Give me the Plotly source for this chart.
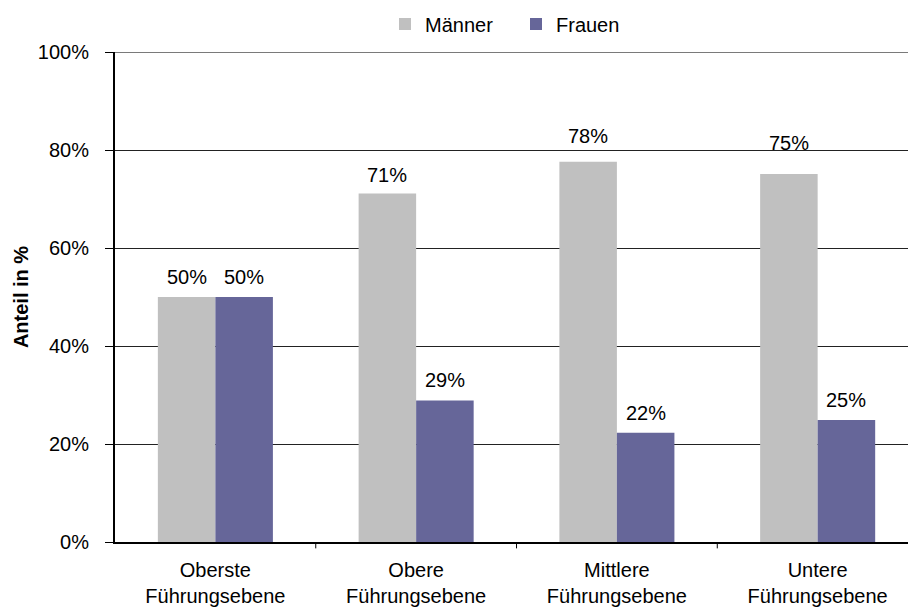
import plotly.graph_objects as go

# Anteil von Männern und Frauen je Führungsebene (in %)
categories = ["Oberste<br>Führungsebene", "Obere<br>Führungsebene",
              "Mittlere<br>Führungsebene", "Untere<br>Führungsebene"]
maenner = [50.0, 71.1, 77.6, 75.1]
frauen = [50.0, 28.9, 22.3, 24.9]
y_ticks = [0, 20, 40, 60, 80, 100]
y_tick_labels = ["0%", "20%", "40%", "60%", "80%", "100%"]

FONT = "Arial, Liberation Sans, sans-serif"
FS = 20
GRAY = "#C0C0C0"
PURPLE = "#666699"
BAR_GAP = 0.427

# vertical distance (px) of each value label centre above its bar
lift_m = [20, 19, 26, 31]
lift_f = [20, 20, 20, 20]

fig = go.Figure()
fig.add_trace(go.Bar(name="Männer", x=list(range(len(categories))), y=maenner,
                     marker=dict(color=GRAY, line=dict(width=0))))
fig.add_trace(go.Bar(name="Frauen", x=list(range(len(categories))), y=frauen,
                     marker=dict(color=PURPLE, line=dict(width=0))))

# value labels above the bars
half = (1 - BAR_GAP) / 4
for i in range(len(categories)):
    for val, sign, lift in ((maenner[i], -1, lift_m[i]), (frauen[i], 1, lift_f[i])):
        fig.add_annotation(x=i + sign * half, y=val, xref="x", yref="y",
                           text=f"{val:.0f}%", showarrow=False,
                           yanchor="middle", xanchor="center", yshift=lift,
                           font=dict(family=FONT, size=FS, color="#000"))

# upper frame line at 100 %
fig.add_shape(type="line", xref="paper", yref="y", x0=0, x1=1, y0=100, y1=100,
              line=dict(color="#7a7a7a", width=2), layer="below")

fig.update_layout(
    width=908, height=607,
    margin=dict(l=115, r=0, t=52, b=62),
    paper_bgcolor="white", plot_bgcolor="white",
    barmode="group", bargap=BAR_GAP, bargroupgap=0,
    font=dict(family=FONT, size=FS, color="#000"),
    showlegend=True,
    legend=dict(orientation="h", x=(385 - 115) / 793, xanchor="left",
                y=1.057, yanchor="middle", entrywidth=86,
                font=dict(family=FONT, size=FS, color="#000"),
                bgcolor="rgba(0,0,0,0)", traceorder="normal"),
    xaxis=dict(range=[-0.5, 3.45], tickmode="array",
               tickvals=list(range(len(categories))), ticktext=categories,
               showgrid=False, zeroline=False,
               showline=True, linecolor="#000", linewidth=2,
               ticks="", ticklabelstandoff=9,
               tickfont=dict(family=FONT, size=FS, color="#000")),
    yaxis=dict(range=[0, 100], tickmode="array", tickvals=y_ticks, ticktext=y_tick_labels,
               showgrid=True, gridcolor="#222", gridwidth=1, zeroline=False,
               showline=True, linecolor="#000", linewidth=2,
               ticks="outside", ticklen=8, tickcolor="#000", tickwidth=1,
               ticklabelstandoff=12,
               tickfont=dict(family=FONT, size=FS, color="#000"),
               title=dict(text="<b>Anteil in %</b>", standoff=4,
                          font=dict(family=FONT, size=FS, color="#000"))),
)

# category separators below the x axis
for b in [0.5, 1.5, 2.5]:
    fig.add_shape(type="line", xref="x", yref="paper", x0=b, x1=b, y0=0, y1=-0.013,
                  line=dict(color="#000", width=1))

fig.write_html("out.html")
